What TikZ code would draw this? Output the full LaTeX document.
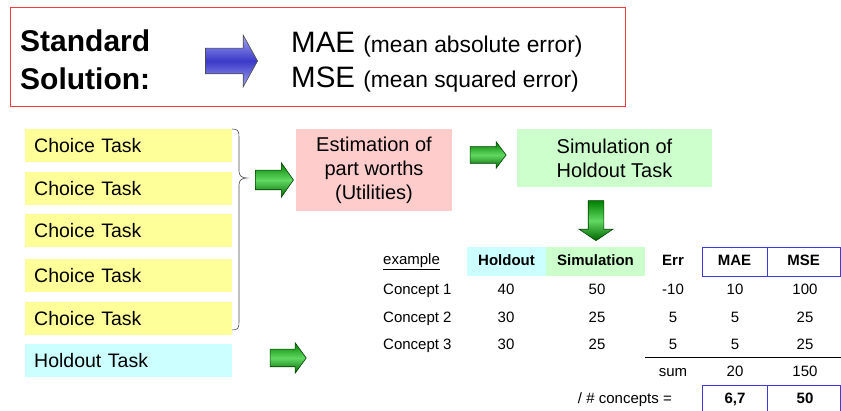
\documentclass[tikz,border=0pt]{standalone}
\usepackage{fontspec}
\setmainfont{Liberation Sans}
\usetikzlibrary{shapes.arrows}

\definecolor{taskyellow}{HTML}{FFFF99}
\definecolor{taskcyan}{HTML}{CCFFFF}
\definecolor{estpink}{HTML}{FFCCCC}
\definecolor{simgreen}{HTML}{CCFFCC}
\definecolor{framered}{HTML}{F03C3C}
\definecolor{cellblue}{HTML}{3C3CDC}
\definecolor{arrowlight}{HTML}{A4A4F2}
\definecolor{arrowdark}{HTML}{3A3AC8}

\tikzset{
  every node/.style={inner sep=0pt},
  taskbox/.style={anchor=north west, text width=189pt, inner xsep=9pt, minimum height=33pt,
    align=left, font=\fontsize{19.5}{23}\selectfont},
  choice/.style={taskbox, fill=taskyellow},
  holdout/.style={taskbox, fill=taskcyan},
  stepbox/.style={align=center, font=\fontsize{20}{24}\selectfont},
  bluearrow/.style={single arrow, draw=black!70, line width=0.6pt,
    top color=arrowlight, bottom color=arrowlight, middle color=arrowdark},
  greenarrow/.style={single arrow, draw=green!25!black, line width=0.6pt,
    top color=green!50!black, bottom color=green!40!black, middle color=green!55!white!85!black},
  cell/.style={anchor=base, font=\fontsize{15}{18}\selectfont},
  headcell/.style={font=\fontsize{15}{18}\selectfont\bfseries, text height=11pt, text depth=3pt},
  bluecell/.style={draw=cellblue, line width=0.8pt},
}

\begin{document}
\begin{tikzpicture}[x=1pt,y=-1pt]
  \useasboundingbox (0,0) rectangle (841,411);

  % standard solution
  \node[draw=framered, line width=1pt, minimum width=615pt, minimum height=99pt] (frame) at (317.5,57.5) {};
  \node[anchor=base west, font=\fontsize{30}{36}\selectfont\bfseries] (std1) at (20,52) {Standard};
  \node[anchor=base west, font=\fontsize{30}{36}\selectfont\bfseries] (std2) at (20,90) {Solution:};
  \node[bluearrow, minimum height=52pt, inner ysep=12.5pt, single arrow head extend=13pt,
    single arrow tip angle=122] (stdarrow) at (228,61) {};
  \node[anchor=base west, font=\fontsize{29.5}{34}\selectfont] (mae) at (291,53)
    {MAE {\fontsize{22.8}{26}\selectfont (mean absolute error)}};
  \node[anchor=base west, font=\fontsize{29.5}{34}\selectfont] (mse) at (291,88)
    {MSE {\fontsize{22.8}{26}\selectfont (mean squared error)}};

  % tasks
  \node[choice] (ct1) at (25,129) {Choice Task};
  \node[choice] (ct2) at (25,172) {Choice Task};
  \node[choice] (ct3) at (25,214) {Choice Task};
  \node[choice] (ct4) at (25,259) {Choice Task};
  \node[choice] (ct5) at (25,302) {Choice Task};
  \node[holdout] (hot) at (25,344) {Holdout Task};

  \draw[line width=0.6pt, black!70] (232,129) .. controls (238,129) and (239,131) .. (239,137)
    -- (239,171) .. controls (239,176) and (242,178) .. (247,178)
    .. controls (242,178) and (239,180) .. (239,185)
    -- (239,322) .. controls (239,328) and (238,330) .. (232,330);

  \node[greenarrow, minimum height=38pt, inner ysep=9.5pt, single arrow head extend=7.5pt,
    single arrow tip angle=110] (arr1) at (271,180) {};
  \node[greenarrow, minimum height=36pt, inner ysep=8.5pt, single arrow head extend=6.5pt,
    single arrow tip angle=108] (arr2) at (285,358) {};

  % estimation and simulation
  \node[stepbox, fill=estpink, minimum width=156pt, minimum height=82pt] (est) at (374,170)
    {Estimation of\\part worths\\(Utilities)};
  \node[greenarrow, minimum height=36pt, inner ysep=8pt, single arrow head extend=5pt,
    single arrow tip angle=106] (arr3) at (485,155) {};
  \node[stepbox, fill=simgreen, minimum width=195pt, minimum height=58pt] (sim) at (614.5,158)
    {Simulation of\\Holdout Task};
  \node[greenarrow, rotate=-90, minimum height=40pt, inner ysep=7.5pt, single arrow head extend=9pt,
    single arrow tip angle=112] (arr4) at (596,218) {};

  % example table
  \node[cell, anchor=base west] (ex) at (383,265) {\underline{example}};
  \node[headcell, fill=taskcyan, minimum width=79pt, minimum height=29pt] (hhold) at (506.5,261.5) {Holdout};
  \node[headcell, fill=simgreen, minimum width=99pt, minimum height=29pt] (hsim) at (595.5,261.5) {Simulation};
  \node[headcell] (herr) at (673,261.5) {Err};
  \node[headcell, bluecell, minimum width=65pt, minimum height=29pt] (hmae) at (734.5,261.5) {MAE};
  \node[headcell, bluecell, minimum width=73pt, minimum height=29pt] (hmse) at (803.5,261.5) {MSE};

  \foreach \cname/\h/\s/\e/\a/\m [count=\i] in
    {Concept 1/40/50/-10/10/100, Concept 2/30/25/5/5/25, Concept 3/30/25/5/5/25} {
    \pgfmathsetmacro{\yy}{295+(\i-1)*27.5}
    \node[cell, anchor=base west] (name\i) at (383,\yy) {\cname};
    \node[cell] (hold\i) at (506,\yy) {\h};
    \node[cell] (sim\i) at (597,\yy) {\s};
    \node[cell] (err\i) at (673,\yy) {\e};
    \node[cell] (mae\i) at (735,\yy) {\a};
    \node[cell] (mse\i) at (805,\yy) {\m};
  }

  \coordinate (rulel) at (645,358);
  \coordinate (ruler) at (841,358);
  \draw[line width=1pt] (rulel) -- (ruler);

  \node[cell] (sum) at (673,377) {sum};
  \node[cell] (summae) at (735,377) {20};
  \node[cell] (summse) at (805,377) {150};

  \node[bluecell, minimum width=65pt, minimum height=28pt] (bmae) at (734.5,399) {};
  \node[bluecell, minimum width=73pt, minimum height=28pt] (bmse) at (803.5,399) {};
  \node[cell, anchor=base east] (per) at (672,404) {/ \# concepts =};
  \node[cell, font=\fontsize{15}{18}\selectfont\bfseries] (avgmae) at (735,404) {6,7};
  \node[cell, font=\fontsize{15}{18}\selectfont\bfseries] (avgmse) at (805,404) {50};
\end{tikzpicture}
\end{document}
